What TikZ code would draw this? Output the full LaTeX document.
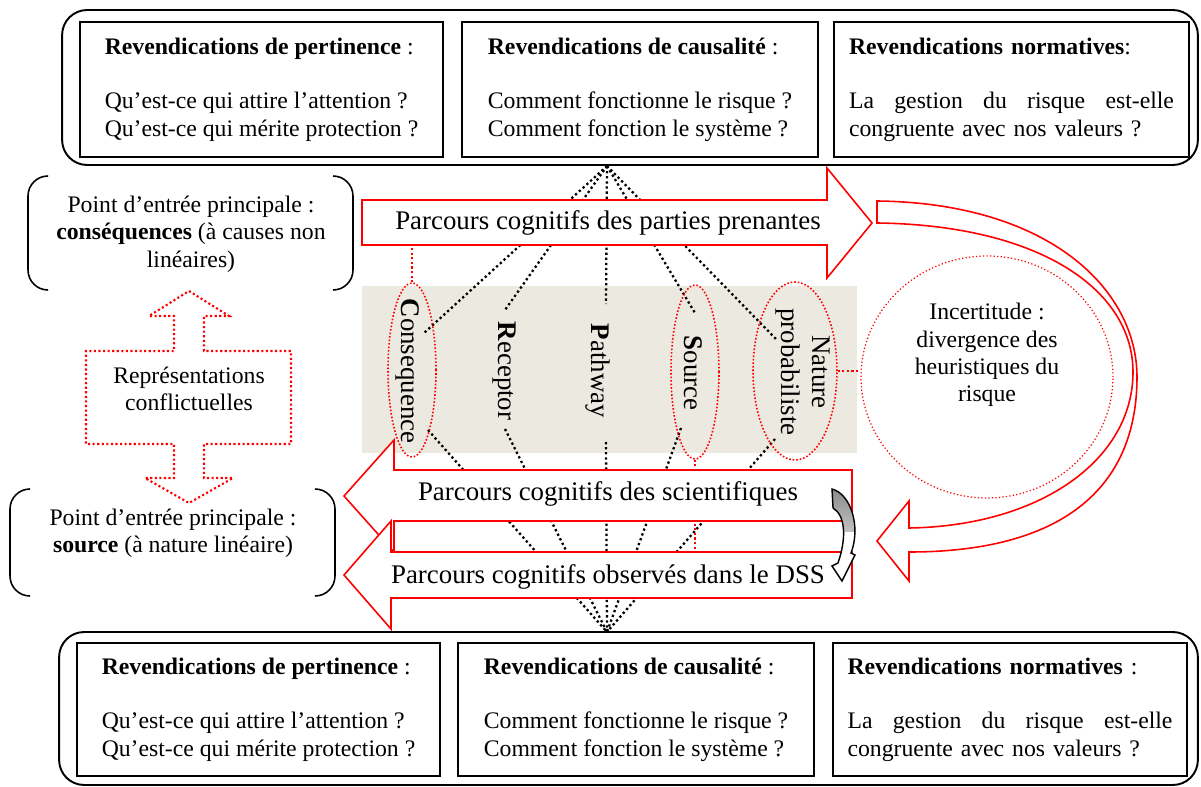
\documentclass[tikz,border=0pt]{standalone}
\usepackage{fontspec}
\setmainfont{Liberation Serif}
\usetikzlibrary{positioning,shapes.geometric}
\setlength{\parindent}{0pt}

\definecolor{beige}{RGB}{236,233,224}
\definecolor{shade}{RGB}{205,205,205}
\newcommand{\boxfont}{\fontsize{13.5}{15.6}\selectfont}
\newcommand{\arrowfont}{\fontsize{15.3}{17.6}\selectfont}

\tikzset{
  outerbox/.style={draw, line width=1.1pt, rounded corners=0.5cm, inner sep=0pt},
  revbox/.style={draw, line width=0.9pt, inner sep=0pt, align=left, font=\boxfont},
  redarrow/.style={draw=red, line width=0.9pt, fill=white},
  fanline/.style={line width=1.3pt, dash pattern=on 1.3pt off 1.6pt},
  reddots/.style={red, line width=1.2pt, dash pattern=on 1.2pt off 1.4pt},
  redring/.style={ellipse, draw=red, line width=0.9pt, dash pattern=on 0.9pt off 1.1pt, inner sep=0pt},
  incring/.style={ellipse, draw=red, line width=0.7pt, dash pattern=on 0.7pt off 1.3pt, inner sep=0pt},
  bracket/.style={line width=0.9pt, rounded corners=0.4cm},
  vlabel/.style={rotate=-90, font=\arrowfont},
  curlarrow/.style={draw, line width=0.8pt, fill=white}
}

\begin{document}
\begin{tikzpicture}[x=0.02cm, y=-0.02cm]
\useasboundingbox (0,0) rectangle (1201,787);

% block of the four S-P-R-C terms
\fill[beige] (362,286) rectangle (857,453);

% fan points and line ends
\coordinate (fan_top) at (607,166);
\coordinate (fan_bot) at (607,632);
\coordinate (end_cons_t) at (424,333);
\coordinate (end_rec_t) at (505,310);
\coordinate (end_path_t) at (606,304);
\coordinate (end_src_t) at (695,313);
\coordinate (end_nat_t) at (776,339);
\coordinate (end_cons_b) at (428,430);
\coordinate (end_rec_b) at (505,429);
\coordinate (end_path_b) at (606,442);
\coordinate (end_src_b) at (681,428);
\coordinate (end_nat_b) at (775,439);
\coordinate (parties_sw) at (362,245);
\coordinate (dss_nw) at (391,552);

% fan from the claims above
\draw[fanline] (fan_top) -- (end_cons_t); % to Consequence
\draw[fanline] (fan_top) -- (end_rec_t); % to Receptor
\draw[fanline] (fan_top) -- (end_path_t); % to Pathway
\draw[fanline] (fan_top) -- (end_src_t); % to Source
\draw[fanline] (fan_top) -- (end_nat_t); % to Nature
% fan to the claims below
\draw[fanline] (end_cons_b) -- (fan_bot);
\draw[fanline] (end_rec_b) -- (fan_bot);
\draw[fanline] (end_path_b) -- (fan_bot);
\draw[fanline] (end_src_b) -- (fan_bot);
\draw[fanline] (end_nat_b) -- (fan_bot);

% terms
\node[vlabel] (lab_cons) at (408,371) {\textbf{C}onsequence};
\node[vlabel] (lab_rec) at (504,371) {\textbf{R}eceptor};
\node[vlabel] (lab_path) at (598,371) {\textbf{P}athway};
\node[vlabel] (lab_src) at (693,373) {\textbf{S}ource};
\node[vlabel, align=center] (lab_nat) at (803,372) {Nature\\probabiliste};

% red rings
\node[redring, minimum width=0.96cm, minimum height=3.48cm] (ell_cons) at (412,370) {};
\node[redring, minimum width=0.96cm, minimum height=3.48cm] (ell_src) at (695,372) {};
\node[redring, minimum width=1.68cm, minimum height=3.56cm] (ell_nat) at (795,371) {};
\node[incring, minimum width=5.04cm, minimum height=4.84cm] (ell_inc) at (987,377) {};
\node[font=\boxfont, align=center] (lab_inc) at (987,355) {Incertitude :\\divergence des\\heuristiques du\\risque};
\draw[reddots] (ell_cons.north) -- (ell_cons.north |- parties_sw);
\draw[reddots] (ell_src.south) -- (ell_src.south |- dss_nw);
\draw[reddots] (ell_nat.east) -- (ell_nat.east -| ell_inc.west);

% stakeholders arrow
\draw[redarrow] (parties_sw) -- (362,200) -- (827,200) -- (827,168) -- (872,223) -- (827,278) -- (827,245) -- cycle;
\node[font=\arrowfont] (lab_parties) at (608,223) {Parcours cognitifs des parties prenantes};

% turn back arrow
\draw[redarrow] (877,201) .. controls (1050,203) and (1137,290) .. (1137,377)
  .. controls (1137,490) and (1060,552) .. (909,552)
  -- (909,581) -- (877,541) -- (909,501) -- (909,528)
  .. controls (1040,526) and (1133,460) .. (1133,372)
  .. controls (1133,290) and (1040,225) .. (877,223) -- cycle;

% scientists arrow
\draw[redarrow] (852,470) -- (394,470) -- (394,440) -- (344,496) -- (394,552) -- (394,521) -- (852,521) -- cycle;
\node[font=\arrowfont] (lab_sci) at (608,494) {Parcours cognitifs des scientifiques};
% DSS arrow
\draw[redarrow] (852,552) -- (dss_nw) -- (391,521) -- (344,575) -- (391,629) -- (391,598) -- (852,598) -- cycle;
\node[font=\arrowfont] (lab_dss) at (608,577) {Parcours cognitifs observés dans le DSS};

% small curl
\draw[curlarrow, path picture={\fill[shade] (820,480) rectangle (870,531);}]
  (832,489) .. controls (851,494) and (861,527) .. (851,553)
  -- (855,555) -- (842,581) -- (832,566) -- (838,563)
  .. controls (847,537) and (845,515) .. (833,508) -- cycle;

% claims above
\node[outerbox, minimum width=22.72cm, minimum height=3.1cm] (box_top) at (630,87.5) {};
\node[revbox, minimum width=7.26cm, minimum height=2.7cm] (box_t1) at (261.5,89.5)
  {\textbf{Revendications de pertinence} :\\[15.6pt]Qu'est-ce qui attire l'attention ?\\Qu'est-ce qui mérite protection ?};
\node[revbox, minimum width=7.12cm, minimum height=2.7cm] (box_t2) at (640,89.5)
  {\textbf{Revendications de causalité} :\\[15.6pt]Comment fonctionne le risque ?\\Comment fonction le système ?};
\node[revbox, text width=6.5cm, minimum width=7.1cm, minimum height=2.7cm] (box_t3) at (1011.5,89.5)
  {\textbf{Revendications normatives}:\\[15.6pt]La\hfill gestion\hfill du\hfill risque\hfill est-elle\\congruente avec nos valeurs ?};

% claims below
\node[outerbox, minimum width=22.78cm, minimum height=3.06cm] (box_bot) at (628.5,708.5) {};
\node[revbox, minimum width=7.26cm, minimum height=2.66cm] (box_b1) at (258.5,709.5)
  {\textbf{Revendications de pertinence} :\\[15.6pt]Qu'est-ce qui attire l'attention ?\\Qu'est-ce qui mérite protection ?};
\node[revbox, minimum width=7.12cm, minimum height=2.66cm] (box_b2) at (636,709.5)
  {\textbf{Revendications de causalité} :\\[15.6pt]Comment fonctionne le risque ?\\Comment fonction le système ?};
\node[revbox, text width=6.5cm, minimum width=7.08cm, minimum height=2.66cm] (box_b3) at (1010,709.5)
  {\textbf{Revendications normatives} :\\[15.6pt]La\hfill gestion\hfill du\hfill risque\hfill est-elle\\congruente avec nos valeurs ?};

% entry points
\draw[bracket] (48,176) -- (28,176) -- (28,290) -- (48,290);
\draw[bracket] (333,176) -- (353,176) -- (353,290) -- (333,290);
\node[font=\boxfont, align=center] (lab_entry_cons) at (191,234)
  {Point d'entrée principale :\\\textbf{conséquences} (à causes non\\linéaires)};
\draw[bracket] (30,489) -- (10,489) -- (10,596) -- (30,596);
\draw[bracket] (315,489) -- (335,489) -- (335,596) -- (315,596);
\node[font=\boxfont, align=center] (lab_entry_src) at (173,533)
  {Point d'entrée principale :\\\textbf{source} (à nature linéaire)};

% conflicting views
\draw[reddots] (189,291) -- (229,316) -- (204,316) -- (204,351) -- (291,351) -- (291,444) -- (204,444) -- (204,478) -- (233,478) -- (189,503) -- (145,478) -- (174,478) -- (174,444) -- (86,444) -- (86,351) -- (174,351) -- (174,316) -- (149,316) -- cycle;
\node[font=\boxfont, align=center] (lab_conflict) at (189,389) {Représentations\\conflictuelles};
\end{tikzpicture}
\end{document}
